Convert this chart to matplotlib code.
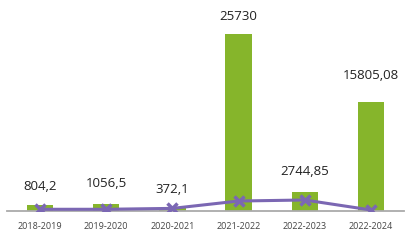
import matplotlib
matplotlib.use("Agg")
import matplotlib.pyplot as plt
import numpy as np

categories = ["2018-2019", "2019-2020", "2020-2021", "2021-2022", "2022-2023", "2022-2024"]
bar_values = [804.2, 1056.5, 372.1, 25730, 2744.85, 15805.08]
bar_labels = ["804,2", "1056,5", "372,1", "25730", "2744,85", "15805,08"]
line_values = [250, 250, 380, 1450, 1600, 150]
label_offsets_px = [19, 20, 19, 18, 21, 27]

plt.rcParams['font.family'] = ['Open Sans', 'DejaVu Sans']

fig = plt.figure(figsize=(4.15, 2.47), dpi=100)
ax = fig.add_axes([7/415, 36/247, 397/415, 200/247])
x = np.arange(len(categories))
ax.bar(x, bar_values, width=0.4, color="#86B52B", zorder=2)
ax.plot(x, line_values, color="#7B67B3", lw=2.2, marker="x", ms=7, mew=2.5, zorder=3)

for xi, v, lab, off in zip(x, bar_values, bar_labels, label_offsets_px):
    ax.annotate(lab, (xi, v), xytext=(0, off), textcoords="offset pixels",
                ha="center", va="center", fontsize=9.5, color="#222222",
                annotation_clip=False)

ax.set_xlim(-0.5, len(categories) - 0.5)
ax.set_ylim(0, 25730 * 200 / 177)
ax.set_xticks(x)
ax.set_xticklabels(categories, fontsize=6.5, color="#444444")
ax.tick_params(axis="x", length=0, pad=8)
ax.set_yticks([])
for s in ["top", "right", "left"]:
    ax.spines[s].set_visible(False)
ax.spines["bottom"].set_color("#AAAAAA")
ax.spines["bottom"].set_linewidth(1.3)

fig.savefig("out.png", dpi=100)
